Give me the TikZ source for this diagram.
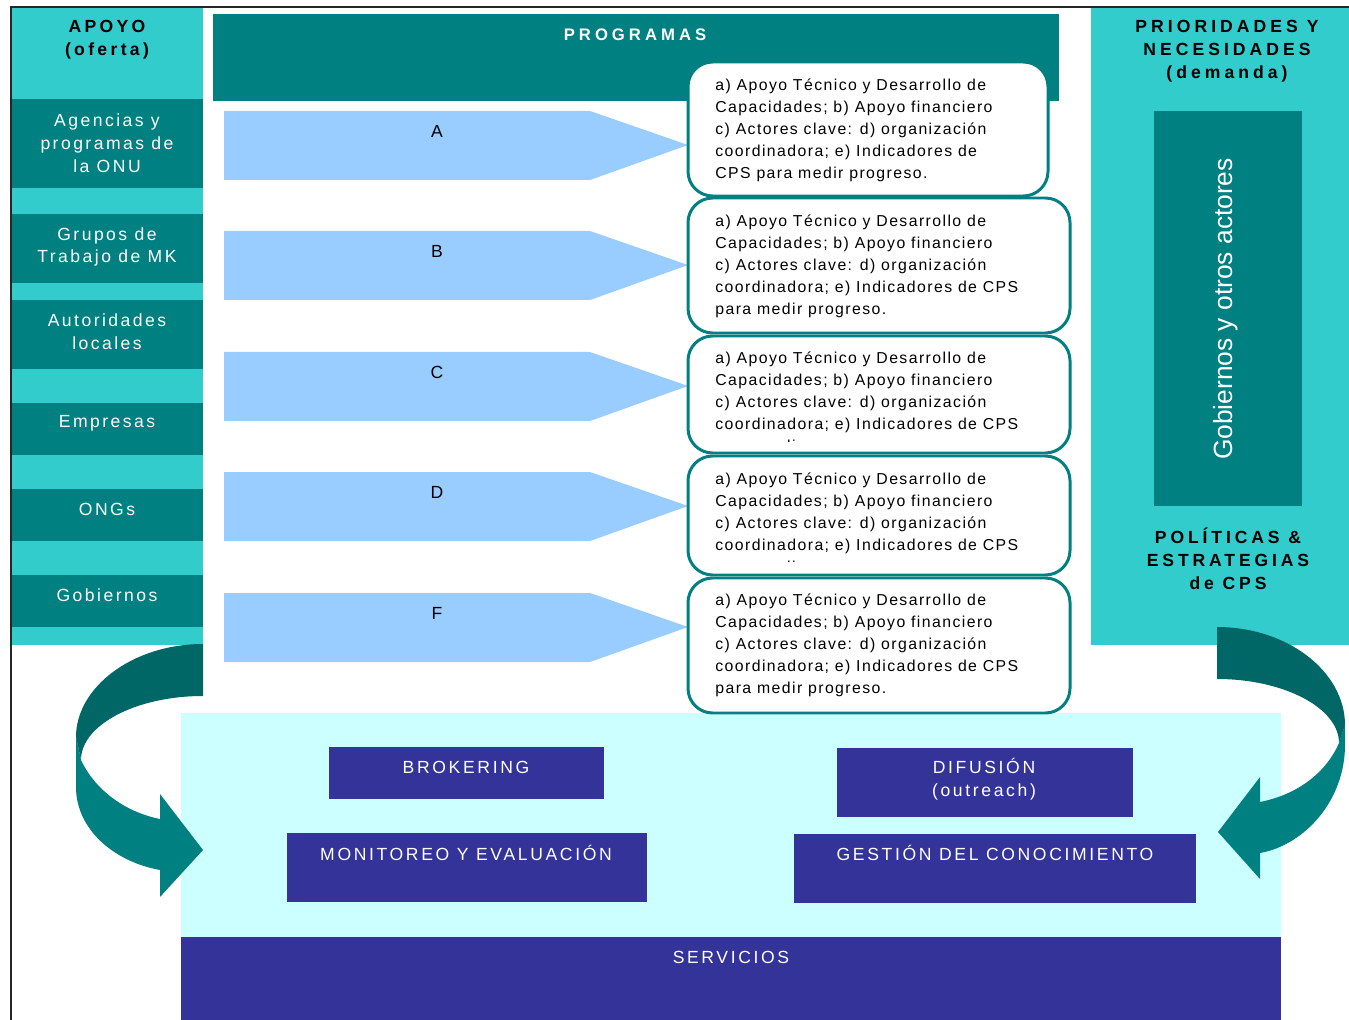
\documentclass[tikz,border=0pt]{standalone}
\usepackage{fontspec}
\setmainfont{Liberation Sans}
\usepackage{tikz}
\usetikzlibrary{calc}

\definecolor{cyanband}{HTML}{33CCCC}
\definecolor{tealband}{HTML}{008080}
\definecolor{darkteal}{HTML}{006666}
\definecolor{lightblue}{HTML}{99CCFF}
\definecolor{paleblue}{HTML}{CCFFFF}
\definecolor{navy}{HTML}{333399}

\tikzset{
  sidelabel/.style={text=white, align=center, inner sep=0pt, font=\fontsize{10}{13}\selectfont\addfontfeatures{LetterSpace=14}},
  headlabel/.style={text=black, align=center, inner sep=0pt, font=\fontsize{10}{13}\selectfont\bfseries\addfontfeatures{LetterSpace=19}},
  proglabel/.style={text=black, inner sep=0pt, font=\fontsize{10}{12}\selectfont},
  progtext/.style={anchor=north west, align=left, inner sep=0pt, font=\fontsize{9}{12.5}\selectfont\addfontfeatures{LetterSpace=9}},
  progbox/.style={draw=tealband, line width=1.7pt, fill=white, rounded corners=14pt},
  servlabel/.style={text=white, align=center, inner sep=0pt, font=\fontsize{10}{13}\selectfont\addfontfeatures{LetterSpace=15}}
}

\begin{document}
\begin{tikzpicture}[x=0.02cm, y=-0.02cm]
    \useasboundingbox (0,0) rectangle (1349,1020);

    % the frame
    \draw[line width=1.1pt, black!85] (11,1020) -- (11,7) -- (1349,7);

    % the supply column on the left
    \fill[cyanband] (12,8) rectangle (203,645);
    \fill[tealband] (12,99) rectangle (203,188);
    \fill[tealband] (12,214) rectangle (203,283);
    \fill[tealband] (12,300) rectangle (203,369);
    \fill[tealband] (12,403) rectangle (203,455);
    \fill[tealband] (12,489) rectangle (203,541);
    \fill[tealband] (12,575) rectangle (203,627);
    \node[headlabel] (apoyo) at (107,40) {APOYO\\(oferta)};
    \node[sidelabel] (agencias) at (107,143) {Agencias y\\programas de\\la ONU};
    \node[sidelabel] (grupos) at (107,247) {Grupos de\\Trabajo de MK};
    \node[sidelabel] (autoridades) at (107,332) {Autoridades\\locales};
    \node[sidelabel] (empresas) at (107,423) {Empresas};
    \node[sidelabel] (ongs) at (107,509) {ONGs};
    \node[sidelabel] (gobiernos) at (107,595) {Gobiernos};

    % the demand column on the right
    \fill[cyanband] (1091,8) rectangle (1349,645);
    \fill[tealband] (1154,111) rectangle (1302,506);
    \node[headlabel, font=\fontsize{10}{13}\selectfont\bfseries\addfontfeatures{LetterSpace=23}] (prioridades) at (1227,51) {PRIORIDADES  Y\\NECESIDADES\\(demanda)};
    \node[text=white, rotate=90, inner sep=0pt, font=\fontsize{15}{16}\selectfont] (actores) at (1226,309) {Gobiernos y otros actores};
    \node[headlabel, font=\fontsize{10}{13}\selectfont\bfseries\addfontfeatures{LetterSpace=22}] (politicas) at (1228,559) {POLÍTICAS \&\\ESTRATEGIAS\\de CPS};

    % the programmes
    \fill[tealband] (213,14) rectangle (1059,101);
    \node[text=white, inner sep=0pt, font=\fontsize{9.5}{12}\selectfont\bfseries\addfontfeatures{LetterSpace=24}] (programas) at (635,35) {PROGRAMAS};

    \fill[lightblue] (224,111) -- (590,111) -- (688,145) -- (590,180) -- (224,180) -- cycle;
    \fill[lightblue] (224,231) -- (590,231) -- (688,265) -- (590,300) -- (224,300) -- cycle;
    \fill[lightblue] (224,352) -- (590,352) -- (688,386) -- (590,421) -- (224,421) -- cycle;
    \fill[lightblue] (224,472) -- (590,472) -- (688,506) -- (590,541) -- (224,541) -- cycle;
    \fill[lightblue] (224,593) -- (590,593) -- (688,627) -- (590,662) -- (224,662) -- cycle;
    \node[proglabel] (labA) at (437,131) {A};
    \node[proglabel] (labB) at (437,251) {B};
    \node[proglabel] (labC) at (437,372) {C};
    \node[proglabel] (labD) at (437,492) {D};
    \node[proglabel] (labF) at (437,613) {F};

    % the services area
    \fill[paleblue] (181,713) rectangle (1281,937);
    \fill[navy] (181,937) rectangle (1281,1020);
    \fill[navy] (329,747) rectangle (604,799);
    \fill[navy] (837,748) rectangle (1133,817);
    \fill[navy] (287,833) rectangle (647,902);
    \fill[navy] (794,834) rectangle (1196,903);
    \node[servlabel] (brokering) at (466,767) {BROKERING};
    \node[servlabel] (difusion) at (984,779) {DIFUSIÓN\\(outreach)};
    \node[servlabel] (monitoreo) at (466,853) {MONITOREO Y EVALUACIÓN};
    \node[servlabel] (gestion) at (995,853) {GESTIÓN DEL CONOCIMIENTO};
    \node[servlabel] (servicios) at (731,957) {SERVICIOS};

    % the boxes with the contents of each programme
    \draw[progbox] (688,62) rectangle (1048,196);
    \node[progtext] (progA) at (715,79) {a) Apoyo Técnico y Desarrollo de\\Capacidades; b) Apoyo financiero\\c) Actores clave: d) organización\\coordinadora; e) Indicadores de\\CPS para medir progreso.};
    \draw[progbox] (688,198) rectangle (1070,333);
    \node[progtext] (progB) at (715,215) {a) Apoyo Técnico y Desarrollo de\\Capacidades; b) Apoyo financiero\\c) Actores clave: d) organización\\coordinadora; e) Indicadores de CPS\\para medir progreso.};
    \draw[progbox] (688,336) rectangle (1070,453);
    \begin{scope}
      \clip (688,336) rectangle (1070,442);
      \node[progtext] (progC) at (715,352) {a) Apoyo Técnico y Desarrollo de\\Capacidades; b) Apoyo financiero\\c) Actores clave: d) organización\\coordinadora; e) Indicadores de CPS\\para medir progreso.};
    \end{scope}
    \draw[progbox] (688,456) rectangle (1070,575);
    \begin{scope}
      \clip (688,456) rectangle (1070,561);
      \node[progtext] (progD) at (715,473) {a) Apoyo Técnico y Desarrollo de\\Capacidades; b) Apoyo financiero\\c) Actores clave: d) organización\\coordinadora; e) Indicadores de CPS\\para medir progreso.};
    \end{scope}
    \draw[progbox] (688,578) rectangle (1070,713);
    \node[progtext] (progF) at (715,594) {a) Apoyo Técnico y Desarrollo de\\Capacidades; b) Apoyo financiero\\c) Actores clave: d) organización\\coordinadora; e) Indicadores de CPS\\para medir progreso.};

    % the curved arrows down to the services
    \fill[darkteal] (203,644) .. controls (133,644) and (76,687) .. (76,737) -- (81,760) .. controls (81,725) and (136,696) .. (203,696) -- cycle;
    \fill[tealband] (76,736) -- (76,787) .. controls (76,830) and (115,862) .. (160,870) -- (160,897) -- (203,850) -- (160,794) -- (160,819) .. controls (125,812) and (95,790) .. (81,760) -- cycle;
    \fill[darkteal] (1217,627) .. controls (1288,627) and (1345,672) .. (1345,725) -- (1339,743) .. controls (1339,708) and (1284,679) .. (1217,679) -- cycle;
    \fill[tealband] (1345,724) -- (1345,745) .. controls (1345,800) and (1305,845) .. (1260,853) -- (1260,879) -- (1218,832) -- (1260,777) -- (1260,802) .. controls (1295,795) and (1325,775) .. (1339,743) -- cycle;
\end{tikzpicture}
\end{document}
